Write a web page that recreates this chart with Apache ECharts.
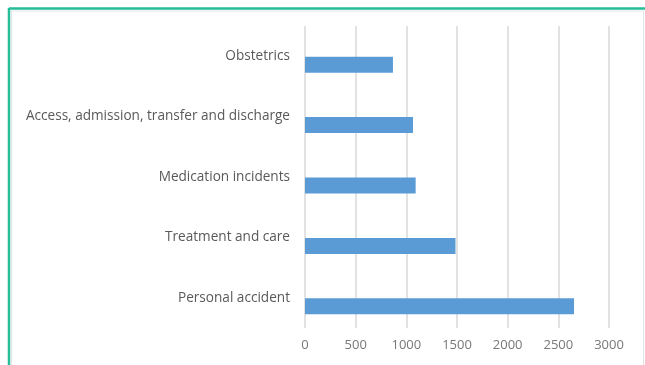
<!DOCTYPE html>
<html>
<head>
<meta charset="utf-8">
<script src="https://cdn.jsdelivr.net/npm/echarts@6/dist/echarts.min.js"></script>
<style>
html,body{margin:0;padding:0;background:#fff;}
#chart{width:645px;height:365px;}
</style>
</head>
<body>
<div id="chart"></div>
<script>
// Categories listed bottom to top
var categories = ["Personal accident", "Treatment and care", "Medication incidents", "Access, admission, transfer and discharge", "Obstetrics"];
var values = [2655, 1485, 1092, 1066, 868];
var emptyValues = [null, null, null, null, null];
var xTicks = [0, 500, 1000, 1500, 2000, 2500, 3000];

var chart = echarts.init(document.getElementById('chart'), null, {renderer: 'canvas'});
chart.setOption({
  animation: false,
  backgroundColor: '#ffffff',
  grid: {left: 305, right: 36, top: 26, bottom: 37, containLabel: false},
  xAxis: {
    type: 'value',
    min: xTicks[0],
    max: xTicks[xTicks.length - 1],
    interval: xTicks[1] - xTicks[0],
    axisLine: {show: false},
    axisTick: {show: false},
    splitLine: {show: true, lineStyle: {color: '#d9d9d9', width: 1.5}},
    axisLabel: {color: '#777777', fontFamily: 'Open Sans', fontSize: 13, margin: 11,
      formatter: function (v) { return String(v); }}
  },
  yAxis: {
    type: 'category',
    data: categories,
    axisLine: {show: false},
    axisTick: {show: false},
    splitLine: {show: false},
    axisLabel: {color: '#595959', fontFamily: 'Open Sans', fontSize: 13.6, margin: 15}
  },
  series: [
    {
      type: 'bar',
      data: emptyValues,
      barWidth: 16,
      barGap: '6%',
      itemStyle: {color: '#5b9bd5'}
    },
    {
      type: 'bar',
      data: values,
      barWidth: 16,
      barGap: '6%',
      itemStyle: {color: '#5b9bd5'}
    }
  ],
  graphic: [
    {type: 'line', shape: {x1: 9, y1: 8.5, x2: 645, y2: 8.5}, style: {stroke: '#25be98', lineWidth: 2.5}, silent: true},
    {type: 'line', shape: {x1: 9, y1: 8, x2: 9, y2: 365}, style: {stroke: '#25be98', lineWidth: 2.5}, silent: true},
    {type: 'line', shape: {x1: 11.5, y1: 11, x2: 643.5, y2: 11}, style: {stroke: '#e4e4e4', lineWidth: 1}, silent: true},
    {type: 'line', shape: {x1: 11.5, y1: 11, x2: 11.5, y2: 365}, style: {stroke: '#e4e4e4', lineWidth: 1}, silent: true},
    {type: 'line', shape: {x1: 643.5, y1: 11, x2: 643.5, y2: 365}, style: {stroke: '#e4e4e4', lineWidth: 1}, silent: true}
  ]
});
</script>
</body>
</html>
